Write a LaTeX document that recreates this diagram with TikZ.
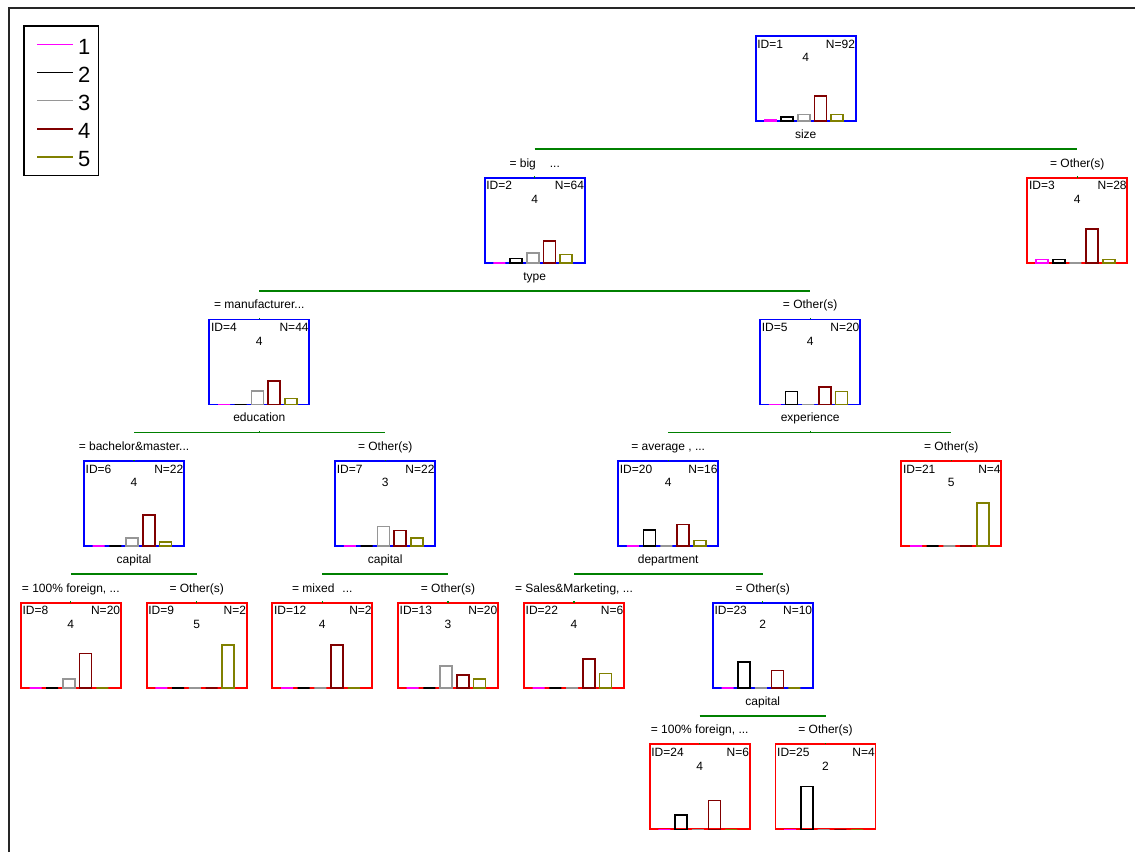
\documentclass[tikz,border=0pt]{standalone}
\usepackage{fontspec}
\setmainfont{Liberation Sans}
\usetikzlibrary{calc}
\definecolor{bc1}{RGB}{255,0,255}
\definecolor{bc2}{RGB}{0,0,0}
\definecolor{bc3}{RGB}{150,150,150}
\definecolor{bc4}{RGB}{128,0,0}
\definecolor{bc5}{RGB}{128,128,0}
\definecolor{glinecol}{RGB}{0,128,0}
\definecolor{innercol}{RGB}{0,0,255}
\definecolor{leafcol}{RGB}{255,0,0}
\tikzset{
  box/.style={draw, line width=1.8pt, minimum width=100pt, minimum height=85pt, inner sep=0pt, outer sep=0pt},
  inbox/.style={box, draw=innercol},
  lfbox/.style={box, draw=leafcol},
  txt/.style={font=\fontsize{12}{14}\selectfont, inner sep=0pt, text=black},
  legtxt/.style={font=\fontsize{22}{26}\selectfont, inner sep=0pt, text=black},
  splitline/.style={draw=glinecol, line width=1.6pt},
  stubline/.style={draw=glinecol, line width=1.2pt},
  barline/.style={line width=1.6pt},
  legline/.style={line width=1.5pt},
}
\newcommand{\treenode}[7]{%
  \node[#2] (#1) at (#3,#4) {};
  \node[txt, anchor=base west] (#1id) at ($(#1.north west)+(1.5,12)$) {ID=#5};
  \node[txt, anchor=base east] (#1n) at ($(#1.north east)+(-0.5,12)$) {N=#6};
  \node[txt, anchor=base] (#1c) at ($(#1.north)+(0,25.7)$) {#7};
}
\newcommand{\drawbars}[7]{%
  \foreach \cnt [count=\i] in {#3,#4,#5,#6,#7} {
    \pgfmathsetmacro\hh{43*\cnt/#2}
    \pgfmathsetmacro\xx{8.7+16.7*(\i-1)}
    \draw[barline, draw=bc\i] ($(#1.south west)+(\xx,0)$) rectangle ++(12,-\hh);
  }%
}
\newcommand{\splitvar}[2]{%
  \node[txt, anchor=base] (#1sv) at ($(#1.south)+(0,17.3)$) {#2};
}
\newcommand{\branchlbl}[2]{%
  \node[txt, anchor=base] (#1br) at ($(#1.north)+(0,-10.7)$) {#2};
}
\newcommand{\splitconn}[3]{%
  \coordinate (#1sp) at ($(#1.south)+(0,28.2)$);
  \draw[splitline] (#2.north |- #1sp) -- (#3.north |- #1sp);
  \draw[stubline] (#1sp) -- ++(0,-1.3);
  \draw[stubline] (#2.north) -- ++(0,-1.3);
  \draw[stubline] (#3.north) -- ++(0,-1.3);
}
\begin{document}
\begin{tikzpicture}[x=1pt,y=-1pt]
\useasboundingbox (0,0) rectangle (1135,852);
\fill[white] (0,0) rectangle (1135,852);
% outer frame (cut off at right and bottom)
\draw[line width=1.6pt, draw=black!85] (8.7,852) -- (8.7,7.7) -- (1135,7.7);

% legend
\node[draw, line width=1.5pt, minimum width=74.5pt, minimum height=149.5pt, inner sep=0pt] (legend) at (61.25,100.75) {};
\foreach \k/\yy in {1/44.3, 2/72.3, 3/100.7, 4/129, 5/157} {
  \coordinate (legA\k) at (37.3,\yy);
  \coordinate (legB\k) at (72.7,\yy);
  \draw[legline, draw=bc\k] (legA\k) -- (legB\k);
  \node[legtxt, anchor=base west] (leg\k) at ($(legB\k)+(5.3,9.7)$) {\k};
}

% nodes
\treenode{n1}{inbox}{805.7}{78.5}{1}{92}{4}
\treenode{n2}{inbox}{534.7}{220.2}{2}{64}{4}
\treenode{n3}{lfbox}{1077.3}{220.2}{3}{28}{4}
\treenode{n4}{inbox}{259.3}{361.9}{4}{44}{4}
\treenode{n5}{inbox}{810.1}{361.9}{5}{20}{4}
\treenode{n6}{inbox}{134}{503.5}{6}{22}{4}
\treenode{n7}{inbox}{385.2}{503.5}{7}{22}{3}
\treenode{n20}{inbox}{668.2}{503.5}{20}{16}{4}
\treenode{n21}{lfbox}{951.3}{503.5}{21}{4}{5}
\treenode{n8}{lfbox}{70.8}{645.2}{8}{20}{4}
\treenode{n9}{lfbox}{196.7}{645.2}{9}{2}{5}
\treenode{n12}{lfbox}{322.3}{645.2}{12}{2}{4}
\treenode{n13}{lfbox}{448}{645.2}{13}{20}{3}
\treenode{n22}{lfbox}{574}{645.2}{22}{6}{4}
\treenode{n23}{inbox}{762.8}{645.2}{23}{10}{2}
\treenode{n24}{lfbox}{699.7}{786.8}{24}{6}{4}
\treenode{n25}{lfbox}{825.5}{786.8}{25}{4}{2}

% bars
\drawbars{n1}{92}{2}{8}{14}{54}{14}
\drawbars{n2}{64}{0}{6}{14}{32}{12}
\drawbars{n3}{28}{2}{2}{0}{22}{2}
\drawbars{n4}{44}{0}{0}{14}{24}{6}
\drawbars{n5}{20}{0}{6}{0}{8}{6}
\drawbars{n6}{22}{0}{0}{4}{16}{2}
\drawbars{n7}{22}{0}{0}{10}{8}{4}
\drawbars{n20}{16}{0}{6}{0}{8}{2}
\drawbars{n21}{4}{0}{0}{0}{0}{4}
\drawbars{n8}{20}{0}{0}{4}{16}{0}
\drawbars{n9}{2}{0}{0}{0}{0}{2}
\drawbars{n12}{2}{0}{0}{0}{2}{0}
\drawbars{n13}{20}{0}{0}{10}{6}{4}
\drawbars{n22}{6}{0}{0}{0}{4}{2}
\drawbars{n23}{10}{0}{6}{0}{4}{0}
\drawbars{n24}{6}{0}{2}{0}{4}{0}
\drawbars{n25}{4}{0}{4}{0}{0}{0}

% split variables
\splitvar{n1}{size}
\splitvar{n2}{type}
\splitvar{n4}{education}
\splitvar{n5}{experience}
\splitvar{n6}{capital}
\splitvar{n7}{capital}
\splitvar{n20}{department}
\splitvar{n23}{capital}

% branch labels
\branchlbl{n2}{= big\hspace{14pt}...}
\branchlbl{n3}{= Other(s)}
\branchlbl{n4}{= manufacturer...}
\branchlbl{n5}{= Other(s)}
\branchlbl{n6}{= bachelor\&master...}
\branchlbl{n7}{= Other(s)}
\branchlbl{n20}{= average , ...}
\branchlbl{n21}{= Other(s)}
\branchlbl{n8}{= 100\% foreign, ...}
\branchlbl{n9}{= Other(s)}
\branchlbl{n12}{= mixed\hspace{8pt}...}
\branchlbl{n13}{= Other(s)}
\branchlbl{n22}{= Sales\&Marketing, ...}
\branchlbl{n23}{= Other(s)}
\branchlbl{n24}{= 100\% foreign, ...}
\branchlbl{n25}{= Other(s)}

% connectors
\splitconn{n1}{n2}{n3}
\splitconn{n2}{n4}{n5}
\splitconn{n4}{n6}{n7}
\splitconn{n5}{n20}{n21}
\splitconn{n6}{n8}{n9}
\splitconn{n7}{n12}{n13}
\splitconn{n20}{n22}{n23}
\splitconn{n23}{n24}{n25}
\end{tikzpicture}
\end{document}
